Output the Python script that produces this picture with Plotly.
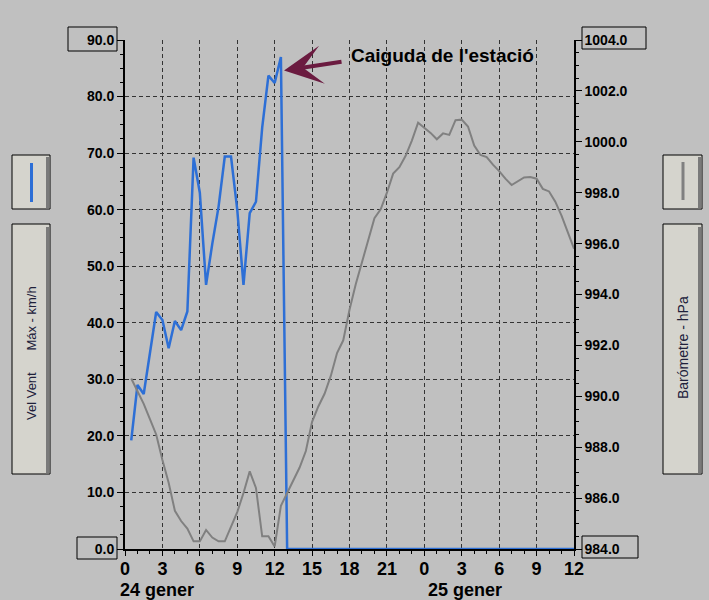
import plotly.graph_objects as go

# half-hourly readings, 24 gener 00:30 -> 25 gener 12:00
hours = [i / 2 for i in range(1, 73)]

wind_max = [19.2, 29.0, 27.4, 34.5, 41.9, 40.5, 35.5, 40.3, 38.7, 42.0,
            69.2, 63.0, 46.7, 54.0, 60.5, 69.4, 69.4, 60.0, 46.7, 59.4,
            61.4, 74.5, 83.7, 82.4, 87.0, 0.0,
            0.0, 0.0, 0.0, 0.0, 0.0, 0.0, 0.0, 0.0, 0.0, 0.0,
            0.0, 0.0, 0.0, 0.0, 0.0, 0.0, 0.0, 0.0, 0.0, 0.0,
            0.0, 0.0, 0.0, 0.0, 0.0, 0.0, 0.0, 0.0, 0.0, 0.0,
            0.0, 0.0, 0.0, 0.0, 0.0, 0.0, 0.0, 0.0, 0.0, 0.0,
            0.0, 0.0, 0.0, 0.0, 0.0, 0.0]

pressure = [990.7, 990.2, 989.7, 989.1, 988.5, 987.5, 986.6, 985.5, 985.1, 984.8,
            984.3, 984.3, 984.75, 984.45, 984.3, 984.3, 984.85, 985.45, 986.2, 987.05,
            986.4, 984.5, 984.5, 984.1, 985.7, 986.2, 986.65, 987.2, 987.85, 989.0,
            989.6, 990.1, 990.8, 991.7, 992.2, 993.4, 994.4, 995.3, 996.2, 997.0,
            997.35, 998.0, 998.75, 999.0, 999.45, 1000.05, 1000.75, 1000.55, 1000.35, 1000.1,
            1000.33, 1000.27, 1000.85, 1000.87, 1000.6, 999.85, 999.48, 999.4, 999.1, 998.85,
            998.55, 998.3, 998.45, 998.6, 998.62, 998.55, 998.15, 998.05, 997.65, 997.1,
            996.45, 995.8]

x_ticks = [0, 3, 6, 9, 12, 15, 18, 21, 24, 27, 30, 33, 36]
x_labels = ["0", "3", "6", "9", "12", "15", "18", "21", "0", "3", "6", "9", "12"]

FONT = "Liberation Sans, Arial, sans-serif"
BG = "#c0c0c0"
BLUE = "#2d6fd6"
GREY = "#808080"
BOXFILL = "#d5d4cd"

# plot area in pixels
L, R, T, B = 125, 574, 40, 549


def px(x):
    return (x - L) / (R - L)


def py(y):
    return (B - y) / (B - T)


fig = go.Figure()
fig.add_trace(go.Scatter(x=hours, y=pressure, yaxis="y2", mode="lines",
                         line=dict(color=GREY, width=2), name="Barómetre - hPa"))
fig.add_trace(go.Scatter(x=hours, y=wind_max, mode="lines",
                         line=dict(color=BLUE, width=2.5), name="Vel Vent Máx - km/h"))

shapes = []


def rect(x0, y0, x1, y1, fill="rgba(0,0,0,0)", line="black", lw=1):
    shapes.append(dict(type="rect", xref="paper", yref="paper",
                       x0=px(x0), x1=px(x1), y0=py(y1), y1=py(y0),
                       fillcolor=fill, line=dict(color=line if lw else "rgba(0,0,0,0)", width=lw)))


# boxed end tick labels
rect(68, 27, 117, 51)
rect(77, 537, 117, 559)
rect(582, 27, 646, 49)
rect(582, 536, 638, 558)

# legend boxes
for x0, x1 in [(12, 50), (663, 702)]:
    rect(x0, 155, x1, 209, fill=BOXFILL)
    rect(x1 - 4, 157, x1 - 0.5, 208.5, fill="#7a7a7a", lw=0)
    rect(x0, 224, x1, 474, fill=BOXFILL)
    rect(x1 - 4, 227, x1 - 0.5, 473.5, fill="#7a7a7a", lw=0)
shapes.append(dict(type="line", xref="paper", yref="paper", x0=px(31.5), x1=px(31.5),
                   y0=py(163), y1=py(202), line=dict(color=BLUE, width=3)))
shapes.append(dict(type="line", xref="paper", yref="paper", x0=px(683), x1=px(683),
                   y0=py(162), y1=py(200), line=dict(color=GREY, width=3)))


def label(x, y, text, size, bold=True, angle=0, color="black"):
    return dict(xref="paper", yref="paper", x=px(x), y=py(y), text=text, showarrow=False,
                xanchor="center", yanchor="middle", textangle=angle,
                font=dict(family=FONT, size=size, color=color,
                          weight="bold" if bold else "normal"))


annotations = [
    label(157, 590, "24 gener", 18),
    label(465, 590, "25 gener", 18),
    label(442, 56, "Caiguda de l'estació", 19),
    dict(x=12.75, y=84.6, xref="x", yref="y", text="", showarrow=True, arrowhead=3,
         arrowsize=1.6, arrowwidth=4, arrowcolor="#6b1b40", ax=59, ay=-9),
    label(31, 353, "Vel Vent\u00a0\u00a0\u00a0\u00a0\u00a0\u00a0Máx - km/h", 13,
          bold=False, angle=-90, color="#20203a"),
    label(683, 348, "Barómetre - hPa", 14, bold=False, angle=-90, color="#20203a"),
]

grid = dict(showgrid=True, gridcolor="#333333", gridwidth=1, griddash="4px,3px")

fig.update_layout(
    width=709, height=600,
    margin=dict(l=L, r=709 - R, t=T, b=600 - B),
    paper_bgcolor=BG, plot_bgcolor=BG,
    showlegend=False,
    font=dict(family=FONT, color="black"),
    xaxis=dict(range=[0, 36], tickvals=x_ticks, ticktext=x_labels, ticks="outside",
               ticklen=5, tickcolor="black", showline=True, linecolor="black", linewidth=2,
               tickfont=dict(size=18, weight="bold"), ticklabelstandoff=-3,
               zeroline=False, layer="below traces",
               minor=dict(dtick=1, ticks="outside", ticklen=3, tickcolor="black", showgrid=False),
               **grid),
    yaxis=dict(range=[0, 90], dtick=10, tickformat=".1f", ticks="outside", ticklen=6,
               tickcolor="black", showline=True, linecolor="black", linewidth=2,
               tickfont=dict(size=14, weight="bold"), zeroline=False, layer="below traces",
               minor=dict(dtick=2.5, ticks="outside", ticklen=3, tickcolor="black", showgrid=False),
               **grid),
    yaxis2=dict(range=[984, 1004], dtick=2, tickformat=".1f", overlaying="y", side="right",
                ticks="outside", ticklen=6, tickcolor="black", showline=True,
                linecolor="black", linewidth=1.5, showgrid=False, zeroline=False,
                tickfont=dict(size=14, weight="bold"),
                minor=dict(dtick=0.5, ticks="outside", ticklen=3, tickcolor="black")),
    shapes=shapes,
    annotations=annotations,
)

# page body margin would shift the 709x600 figure inside the window
fig.write_html("out.html", config={"displayModeBar": False},
               post_script="document.body.style.margin='0';")
